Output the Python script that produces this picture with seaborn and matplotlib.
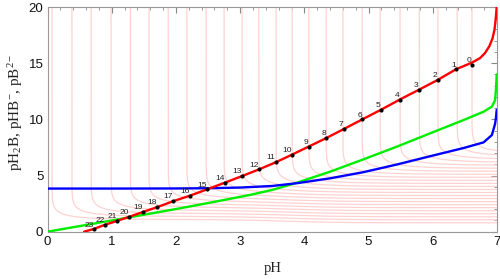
import numpy as np
import pandas as pd
import matplotlib
matplotlib.use("Agg")
import matplotlib.pyplot as plt
from matplotlib.ticker import MultipleLocator
import seaborn as sns

# ---- data ----
# red curve: pH2B
red_x = [0.57, 0.724, 0.896, 1.087, 1.274, 1.483, 1.71, 1.959, 2.219, 2.489, 2.764, 3.029,
         3.299, 3.559, 3.808, 4.068, 4.34, 4.618, 4.903, 5.189, 5.485, 5.786, 6.077, 6.362,
         6.61, 6.735, 6.81, 6.88, 6.93, 6.96, 6.98, 6.995]
red_y = [0.0, 0.25, 0.62, 0.97, 1.33, 1.75, 2.19, 2.72, 3.21, 3.78, 4.37, 4.95,
         5.56, 6.19, 6.86, 7.58, 8.33, 9.15, 10.0, 10.84, 11.76, 12.64, 13.51, 14.46,
         15.05, 15.45, 15.88, 16.5, 17.2, 17.95, 18.9, 20.0]
# green curve: pHB-
green_x = [0.0, 1.0, 2.06, 2.6, 3.15, 3.5, 3.85, 4.4, 4.92, 5.44, 5.96, 6.48, 6.79, 6.92,
           6.97, 6.985, 6.995]
green_y = [0.0, 1.0, 2.08, 2.66, 3.27, 3.72, 4.3, 5.34, 6.44, 7.57, 8.76, 9.94, 10.68, 11.13,
           11.7, 12.8, 14.0]
# blue curve: pB2-
blue_x = [0.0, 1.0, 2.0, 2.5, 3.0, 3.5, 3.9, 4.4, 4.92, 5.44, 5.96, 6.48, 6.79, 6.92,
          6.97, 6.985, 6.995]
blue_y = [3.84, 3.84, 3.85, 3.87, 3.93, 4.07, 4.33, 4.75, 5.3, 5.98, 6.72, 7.45, 7.95, 8.6,
          9.6, 10.2, 10.85]
# labelled solution points 0..23
pt_label = [str(i) for i in range(24)]
pt_x = [6.606, 6.362, 6.077, 5.786, 5.485, 5.189, 4.903, 4.618, 4.34, 4.068, 3.808, 3.559,
        3.299, 3.029, 2.764, 2.489, 2.219, 1.959, 1.71, 1.483, 1.274, 1.087, 0.896, 0.724]
pt_y = [14.84, 14.45, 13.5, 12.63, 11.75, 10.83, 10.0, 9.14, 8.32, 7.57, 6.85, 6.18,
        5.55, 4.94, 4.36, 3.77, 3.2, 2.71, 2.17, 1.73, 1.31, 0.95, 0.6, 0.21]
# background family (light pink): vertical position and level at right edge
pink_x = [6.61, 6.38, 6.08, 5.79, 5.49, 5.18, 4.90, 4.60, 4.34, 4.07, 3.81, 3.56,
          3.29, 3.03, 2.75, 2.47, 2.17, 1.88, 1.58, 1.29, 0.99, 0.68, 0.38, 0.07]
pink_level = [7.0, 6.73, 6.46, 6.19, 5.92, 5.65, 5.38, 5.11, 4.84, 4.57, 4.30, 4.03,
              3.76, 3.49, 3.22, 2.95, 2.68, 2.41, 2.14, 1.87, 1.60, 1.33, 1.06, 0.79]

# ---- figure ----
sns.set_style("white")
plt.rcParams["font.family"] = ["Liberation Sans", "DejaVu Sans"]
plt.rcParams["mathtext.fontset"] = "custom"
plt.rcParams["mathtext.rm"] = "Liberation Serif"
plt.rcParams["mathtext.it"] = "Liberation Serif:italic"

fig = plt.figure(figsize=(5, 2.79), dpi=100)
ax = fig.add_axes([0.095, 0.1695, 0.899, 0.8054])

# build pink family (L-shaped curves)
rows = []
for k, (x0, lev) in enumerate(zip(pink_x, pink_level)):
    d = np.geomspace(1e-22, 7.0 - x0, 400)
    xs = x0 + d
    bend = -np.log10(-np.expm1(-d * np.log(10)))
    step = np.log10(2.0) - np.log10(1 + 1 / (1 + 10 ** (3.85 - xs)))
    ys = lev + step + bend
    for a, b in zip(xs, ys):
        rows.append((k, a, b))
pink = pd.DataFrame(rows, columns=["curve", "x", "y"])
sns.lineplot(data=pink, x="x", y="y", units="curve", estimator=None, sort=False,
             color="#ffd2d2", lw=0.9, ax=ax, zorder=1)

sns.lineplot(x=green_x, y=green_y, sort=False, color="#00ee00", lw=1.7, ax=ax, zorder=3)
sns.lineplot(x=blue_x, y=blue_y, sort=False, color="#0000ff", lw=1.7, ax=ax, zorder=3)
sns.lineplot(x=red_x, y=red_y, sort=False, color="#ff0000", lw=1.7, ax=ax, zorder=3)
sns.scatterplot(x=pt_x, y=pt_y, color="black", s=9, linewidth=0, ax=ax, zorder=4)
for lab, x, y in zip(pt_label, pt_x, pt_y):
    ax.annotate(lab, (x, y), xytext=(-0.3, 0.6), textcoords="offset points",
                ha="right", va="bottom", fontsize=6, color="#222222", zorder=5)

ax.set_xlim(0, 7)
ax.set_ylim(0, 20)
ax.xaxis.set_major_locator(MultipleLocator(1))
ax.xaxis.set_minor_locator(MultipleLocator(0.2))
ax.yaxis.set_major_locator(MultipleLocator(5))
ax.yaxis.set_minor_locator(MultipleLocator(1))
ax.tick_params(which="both", direction="in", top=True, right=True, color="#888888",
               labelsize=9.5, labelcolor="#111111", pad=3)
ax.tick_params(which="major", length=4, width=0.8)
ax.tick_params(which="minor", length=2.3, width=0.6)
for s in ax.spines.values():
    s.set_color("#999999")
    s.set_linewidth(0.8)

ax.set_xlabel("pH", family="Liberation Serif", fontsize=10.5, color="#222222", labelpad=10)
ax.set_ylabel(r"pH$_2$B, pHB$^{-}$, pB$^{2-}$", family="Liberation Serif", fontsize=11,
              color="#222222", va="center")
ax.yaxis.set_label_coords(-0.072, 0.53)

fig.savefig("out.png", dpi=100)
